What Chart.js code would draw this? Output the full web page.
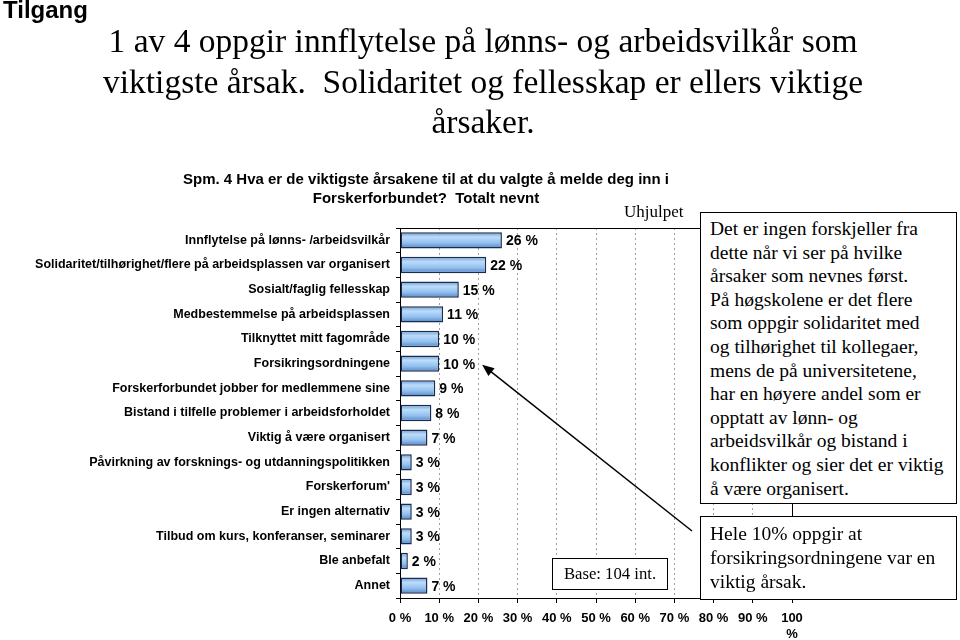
<!DOCTYPE html>
<html>
<head>
<meta charset="utf-8">
<script src="https://cdn.jsdelivr.net/npm/chart.js@4"></script>
<style>
	body { margin: 0; background: #fff; }
	#wrap { position: relative; width: 960px; height: 640px; overflow: hidden; }
	#mycanvas { position: absolute; left: 0; top: 0; }
	.txt { position: absolute; white-space: nowrap; color: #000; }
	.sans { font-family: "Liberation Sans", Arial, sans-serif; font-weight: bold; }
	.serif { font-family: "Liberation Serif", "Times New Roman", serif; }
	.box { position: absolute; background: #fff; border: 1.5px solid #000; box-sizing: border-box; white-space: nowrap; }
</style>
</head>
<body>
<div id="wrap">
	<canvas id="mycanvas" width="960" height="640"></canvas>

	<div class="txt sans" style="left:3px; top:-4px; font-size:24px;">Tilgang</div>
	<div class="txt serif" style="left:0; width:966px; top:21px; font-size:33.5px; line-height:40.5px; text-align:center;">
		1 av 4 oppgir innflytelse på lønns- og arbeidsvilkår som<br>
		viktigste årsak.&nbsp; Solidaritet og fellesskap er ellers viktige<br>
		årsaker.
	</div>
	<div class="txt sans" style="left:0; width:852px; top:170px; font-size:15px; line-height:18.5px; text-align:center;">
		Spm. 4 Hva er de viktigste årsakene til at du valgte å melde deg inn i<br>
		Forskerforbundet?&nbsp; Totalt nevnt
	</div>
	<div class="txt serif" style="left:624px; top:202px; font-size:17px;">Uhjulpet</div>

	<div class="box serif" style="left:700px; top:212px; width:257px; height:292px; padding:4px 0 0 9px; font-size:19.5px; line-height:23.6px;">
		Det er ingen forskjeller fra<br>
		dette når vi ser på hvilke<br>
		årsaker som nevnes først.<br>
		På høgskolene er det flere<br>
		som oppgir solidaritet med<br>
		og tilhørighet til kollegaer,<br>
		mens de på universitetene,<br>
		har en høyere andel som er<br>
		opptatt av lønn- og<br>
		arbeidsvilkår og bistand i<br>
		konflikter og sier det er viktig<br>
		å være organisert.
	</div>
	<div class="box serif" style="left:700px; top:516px; width:257px; height:84px; padding:5px 0 0 9px; font-size:19.5px; line-height:23.8px;">
		Hele 10% oppgir at<br>
		forsikringsordningene var en<br>
		viktig årsak.
	</div>
	<div class="box serif" style="left:552px; top:558px; width:116px; height:32px; font-size:16.7px; line-height:29px; text-align:center;">Base: 104 int.</div>
</div>

<script>
var categories = [
	"Innflytelse på lønns- /arbeidsvilkår",
	"Solidaritet/tilhørighet/flere på arbeidsplassen var organisert",
	"Sosialt/faglig fellesskap",
	"Medbestemmelse på arbeidsplassen",
	"Tilknyttet mitt fagområde",
	"Forsikringsordningene",
	"Forskerforbundet jobber for medlemmene sine",
	"Bistand i tilfelle problemer i arbeidsforholdet",
	"Viktig å være organisert",
	"Påvirkning av forsknings- og utdanningspolitikken",
	"Forskerforum'",
	"Er ingen alternativ",
	"Tilbud om kurs, konferanser, seminarer",
	"Ble anbefalt",
	"Annet"
];
var values = [26, 22, 15, 11, 10, 10, 9, 8, 7, 3, 3, 3, 3, 2, 7];
var xTicks = [0, 10, 20, 30, 40, 50, 60, 70, 80, 90, 100];

var arrowIndex = 5; // Forsikringsordningene

var valueFont = 'bold 14px "Liberation Sans", Arial, sans-serif';

var extras = {
	id: 'extras',
	beforeDatasetsDraw: function(chart) {
		var ctx = chart.ctx;
		chart.getDatasetMeta(0).data.forEach(function(bar) {
			var top = bar.y - bar.height / 2;
			var bottom = bar.y + bar.height / 2;
			var g = ctx.createLinearGradient(0, top, 0, bottom);
			g.addColorStop(0, '#6a9ad6');
			g.addColorStop(0.3, '#bcdcfa');
			g.addColorStop(0.65, '#93c1f0');
			g.addColorStop(1, '#5585c4');
			// options object is shared between bars, so give each one its own copy
			bar.options = Object.assign({}, bar.options, { backgroundColor: g });
		});
	},
	afterDatasetsDraw: function(chart) {
		var ctx = chart.ctx;
		ctx.save();
		ctx.font = valueFont;
		ctx.fillStyle = '#000';
		ctx.textAlign = 'left';
		ctx.textBaseline = 'middle';
		chart.getDatasetMeta(0).data.forEach(function(bar, i) {
			ctx.fillText(values[i] + ' %', bar.x + 4, bar.y + 1);
		});
		ctx.restore();
	},
	afterDraw: function(chart) {
		var ctx = chart.ctx;
		var a = chart.chartArea;
		ctx.save();
		// plot frame
		ctx.strokeStyle = '#000';
		ctx.lineWidth = 1;
		ctx.beginPath();
		ctx.moveTo(a.left, a.top + 0.5);
		ctx.lineTo(a.right + 0.5, a.top + 0.5);
		ctx.lineTo(a.right + 0.5, a.bottom);
		ctx.stroke();

		// arrow pointing at the Forsikringsordningene label
		var bar = chart.getDatasetMeta(0).data[arrowIndex];
		ctx.font = valueFont;
		var tipX = bar.x + 4 + ctx.measureText(values[arrowIndex] + ' %').width + 7;
		var tipY = chart.scales.y.getPixelForValue(arrowIndex) + 1;
		var fromX = 692, fromY = 531;
		var ang = Math.atan2(tipY - fromY, tipX - fromX);
		ctx.lineWidth = 1.5;
		ctx.beginPath();
		ctx.moveTo(fromX, fromY);
		ctx.lineTo(tipX - 8 * Math.cos(ang), tipY - 8 * Math.sin(ang));
		ctx.stroke();
		ctx.fillStyle = '#000';
		ctx.beginPath();
		ctx.moveTo(tipX, tipY);
		ctx.lineTo(tipX - 12 * Math.cos(ang) + 5 * Math.sin(ang), tipY - 12 * Math.sin(ang) - 5 * Math.cos(ang));
		ctx.lineTo(tipX - 12 * Math.cos(ang) - 5 * Math.sin(ang), tipY - 12 * Math.sin(ang) + 5 * Math.cos(ang));
		ctx.closePath();
		ctx.fill();
		ctx.restore();
	}
};

var ctx = document.getElementById('mycanvas');

var chart = new Chart(ctx, {
	type: 'bar',
	data: {
		labels: categories,
		datasets: [{
			data: values,
			backgroundColor: '#93c1f0',
			borderColor: '#1c2c4c',
			borderWidth: 1.5,
			borderSkipped: false,
			barPercentage: 0.66,
			categoryPercentage: 1
		}]
	},
	options: {
		indexAxis: 'y',
		responsive: false,
		animation: false,
		devicePixelRatio: 1,
		layout: { padding: { top: 228, right: 168, left: 0, bottom: 0 } },
		plugins: {
			legend: { display: false },
			tooltip: { enabled: false }
		},
		scales: {
			x: {
				min: 0,
				max: 100,
				afterFit: function(scale) { scale.height = 42; },
				afterBuildTicks: function(scale) {
					scale.ticks = xTicks.map(function(v) { return { value: v }; });
				},
				ticks: {
					color: '#000',
					font: { family: '"Liberation Sans", Arial, sans-serif', weight: 'bold', size: 13 },
					padding: 8,
					maxRotation: 0,
					autoSkip: false,
					callback: function(v) { return v === 100 ? ['100', '%'] : v + ' %'; }
				},
				grid: {
					color: '#a0a0a0',
					lineWidth: 1,
					tickLength: 5,
					tickColor: '#000',
					tickBorderDash: []
				},
				border: { color: '#000', width: 1, dash: [2, 3] }
			},
			y: {
				afterFit: function(scale) { scale.width = 400; },
				ticks: {
					color: '#000',
					font: { family: '"Liberation Sans", Arial, sans-serif', weight: 'bold', size: 12.5 },
					padding: 6,
					autoSkip: false
				},
				grid: {
					drawOnChartArea: false,
					tickLength: 4,
					tickColor: '#000'
				},
				border: { color: '#000', width: 1 }
			}
		}
	},
	plugins: [extras]
});
</script>
</body>
</html>
